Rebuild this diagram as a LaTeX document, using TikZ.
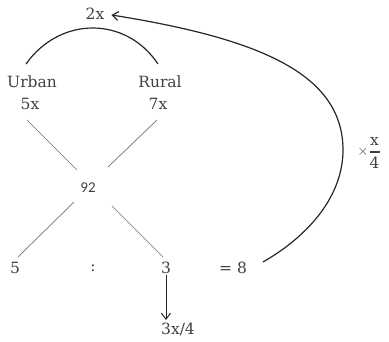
\documentclass[tikz,border=0pt]{standalone}
\usepackage{amsmath}
\usepackage{fontspec}
\setmainfont{DejaVu Serif}
\newfontfamily\numfont{Carlito}
\usepackage{tikz}
\usetikzlibrary{positioning, arrows.meta}

\begin{document}
\begin{tikzpicture}[
    x=1pt, y=-1pt,
    lbl/.style={inner sep=1pt, text=black!75, font=\fontsize{15.5}{18}\selectfont, align=center},
    xline/.style={draw=black!55, line width=0.7pt},
    curve/.style={draw=black!85, line width=1.2pt},
    arrow/.style={-{Straight Barb[length=6pt, width=9pt]}, line width=1pt, black!85}
]
\useasboundingbox (0,0) rectangle (389,341);

% top of the tree
\node[lbl] (share) at (95,14) {2x};
\node[lbl] (urban) at (32,82) {Urban};
\node[lbl] (urbanx) at (30,104) {5x};
\node[lbl] (rural) at (160,82) {Rural};
\node[lbl] (ruralx) at (158,104) {7x};
\draw[curve] (26,64) .. controls (60,16) and (126,16) .. (158,64);

% the cross
\node[lbl, font=\numfont\fontsize{15}{18}\selectfont] (mix) at (88,188) {92};
\coordinate (ul) at (27,120);  \coordinate (ulm) at (77,170);
\coordinate (ur) at (157,120); \coordinate (urm) at (108,167);
\coordinate (ll) at (18,257);  \coordinate (llm) at (74,202);
\coordinate (lr) at (163,257); \coordinate (lrm) at (112,206);
\draw[xline] (ul) -- (ulm);
\draw[xline] (ur) -- (urm);
\draw[xline] (llm) -- (ll);
\draw[xline] (lrm) -- (lr);

% ratio row
\node[lbl] (five) at (15,268) {5};
\node[lbl] (colon) at (93,268) {:};
\node[lbl] (three) at (166,268) {3};
\node[lbl] (eight) at (233,268) {= 8};
\node[lbl] (part) at (178,329) {3x/4};
\draw[arrow] (three.south) -- (166,320);

% back to the top
\node[lbl] (factor) at (369,153) {\(\times\genfrac{}{}{1.4pt}{0}{\text{x}}{\text{4}}\)};
\draw[arrow, line width=1.2pt, shorten >=6pt] (263,262) .. controls (310,235) and (343,195) .. (343,150)
    .. controls (343,72) and (255,38) .. (share.east);
\end{tikzpicture}
\end{document}
